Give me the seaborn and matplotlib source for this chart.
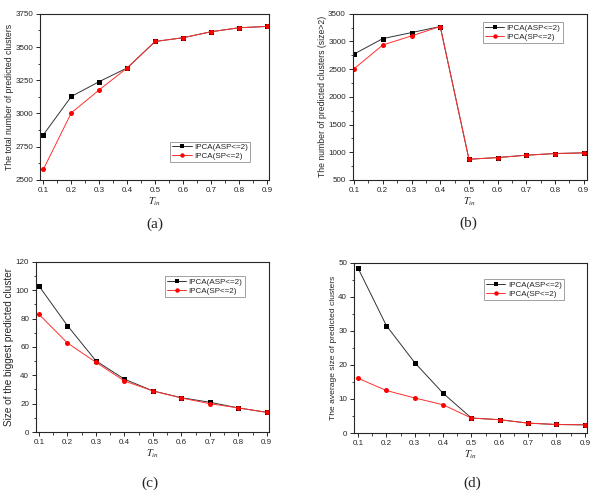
import pandas as pd
import seaborn as sns
import matplotlib.pyplot as plt
from matplotlib.ticker import MultipleLocator

# Data
t_in = [0.1, 0.2, 0.3, 0.4, 0.5, 0.6, 0.7, 0.8, 0.9]
methods = ['IPCA(ASP<=2)', 'IPCA(SP<=2)']

total_asp = [2840, 3128, 3240, 3343, 3542, 3570, 3615, 3645, 3655]
total_sp = [2580, 3005, 3178, 3343, 3542, 3570, 3615, 3645, 3655]

size2_asp = [2774, 3052, 3161, 3270, 874, 904, 947, 977, 989]
size2_sp = [2508, 2937, 3101, 3270, 874, 904, 947, 977, 989]

biggest_asp = [103, 75, 50.2, 37.3, 29, 24.2, 21, 17, 13.9]
biggest_sp = [83, 62.8, 49.2, 36, 29, 24, 20, 17, 13.9]

avg_asp = [48.5, 31.6, 20.7, 11.7, 4.4, 3.9, 2.9, 2.5, 2.4]
avg_sp = [16.1, 12.5, 10.3, 8.3, 4.4, 3.9, 2.9, 2.5, 2.4]

sns.set_style('ticks')
plt.rcParams['font.family'] = ['Liberation Sans', 'DejaVu Sans']
plt.rcParams['mathtext.fontset'] = 'stix'
plt.rcParams['xtick.direction'] = 'out'
plt.rcParams['ytick.direction'] = 'out'

fig = plt.figure(figsize=(6, 4.93), dpi=100)

panels = [
    # rect, asp, sp, ylabel, ylabel size, ylim, major, xlim, legend center,
    # caption pos, caption
    ([0.0667, 0.635, 0.382, 0.337], total_asp, total_sp,
     'The total number of predicted clusters', 6.2, (2500, 3750), 250,
     (0.088, 0.908), (0.742, 0.169), (155, 224), '(a)'),
    ([0.588, 0.635, 0.39, 0.337], size2_asp, size2_sp,
     'The number of predicted clusters (size>2)', 6.2, (500, 3500), 500,
     (0.0955, 0.9105), (0.726, 0.886), (468, 223), '(b)'),
    ([0.06, 0.1237, 0.388, 0.345], biggest_asp, biggest_sp,
     'Size of the biggest predicted cluster', 7.2, (0, 120), 20,
     (0.0895, 0.907), (0.725, 0.856), (150, 483), '(c)'),
    ([0.59, 0.1217, 0.388, 0.345], avg_asp, avg_sp,
     'The average size of predicted clusters', 6.1, (0, 50), 10,
     (0.086, 0.907), (0.73, 0.844), (472, 483), '(d)'),
]

for (rect, asp, sp, ylabel, ysize, ylim, major, xlim, leg_xy,
     cap_xy, cap) in panels:
    ax = fig.add_axes(rect)
    df = pd.DataFrame({
        'T': t_in + t_in,
        'value': asp + sp,
        'method': [methods[0]] * len(t_in) + [methods[1]] * len(t_in),
    })
    sns.lineplot(data=df, x='T', y='value', hue='method', style='method',
                 markers=['s', 'o'], dashes=False,
                 palette=['#333333', '#ff3030'], linewidth=0.7,
                 markersize=3.6, markeredgewidth=0, ax=ax)
    for line, mc in zip(ax.get_lines()[:2], ['black', 'red']):
        line.set_markerfacecolor(mc)
    ax.set_xlim(*xlim)
    ax.set_ylim(*ylim)
    ax.xaxis.set_minor_locator(MultipleLocator(0.05))
    ax.yaxis.set_major_locator(MultipleLocator(major))
    ax.yaxis.set_minor_locator(MultipleLocator(major / 2))
    ax.set_xticks(t_in)
    ax.set_xticklabels([str(t) for t in t_in])
    ax.tick_params(which='major', length=3, width=0.7, labelsize=5.8, pad=2)
    ax.tick_params(which='minor', length=1.8, width=0.6)
    for s in ax.spines.values():
        s.set_linewidth(0.8)
        s.set_visible(True)
    ax.set_xlabel(r'$T_{in}$', fontsize=7.5, labelpad=1)
    ax.set_ylabel(ylabel, fontsize=ysize, labelpad=1)
    handles, labels = ax.get_legend_handles_labels()
    for h, mc in zip(handles, ['black', 'red']):
        h.set_markerfacecolor(mc)
        h.set_markersize(3.2)
    leg = ax.legend(handles, labels, loc='center', bbox_to_anchor=leg_xy,
                    fontsize=5.8, frameon=True, fancybox=False,
                    edgecolor='#888888', handlelength=2.4,
                    borderpad=0.25, labelspacing=0.15, handletextpad=0.3)
    leg.get_frame().set_linewidth(0.7)
    fig.text(cap_xy[0] / 600, 1 - cap_xy[1] / 493, cap, ha='center',
             va='center', fontsize=11, family=['Liberation Serif'])

fig.savefig('out.png', dpi=100)
